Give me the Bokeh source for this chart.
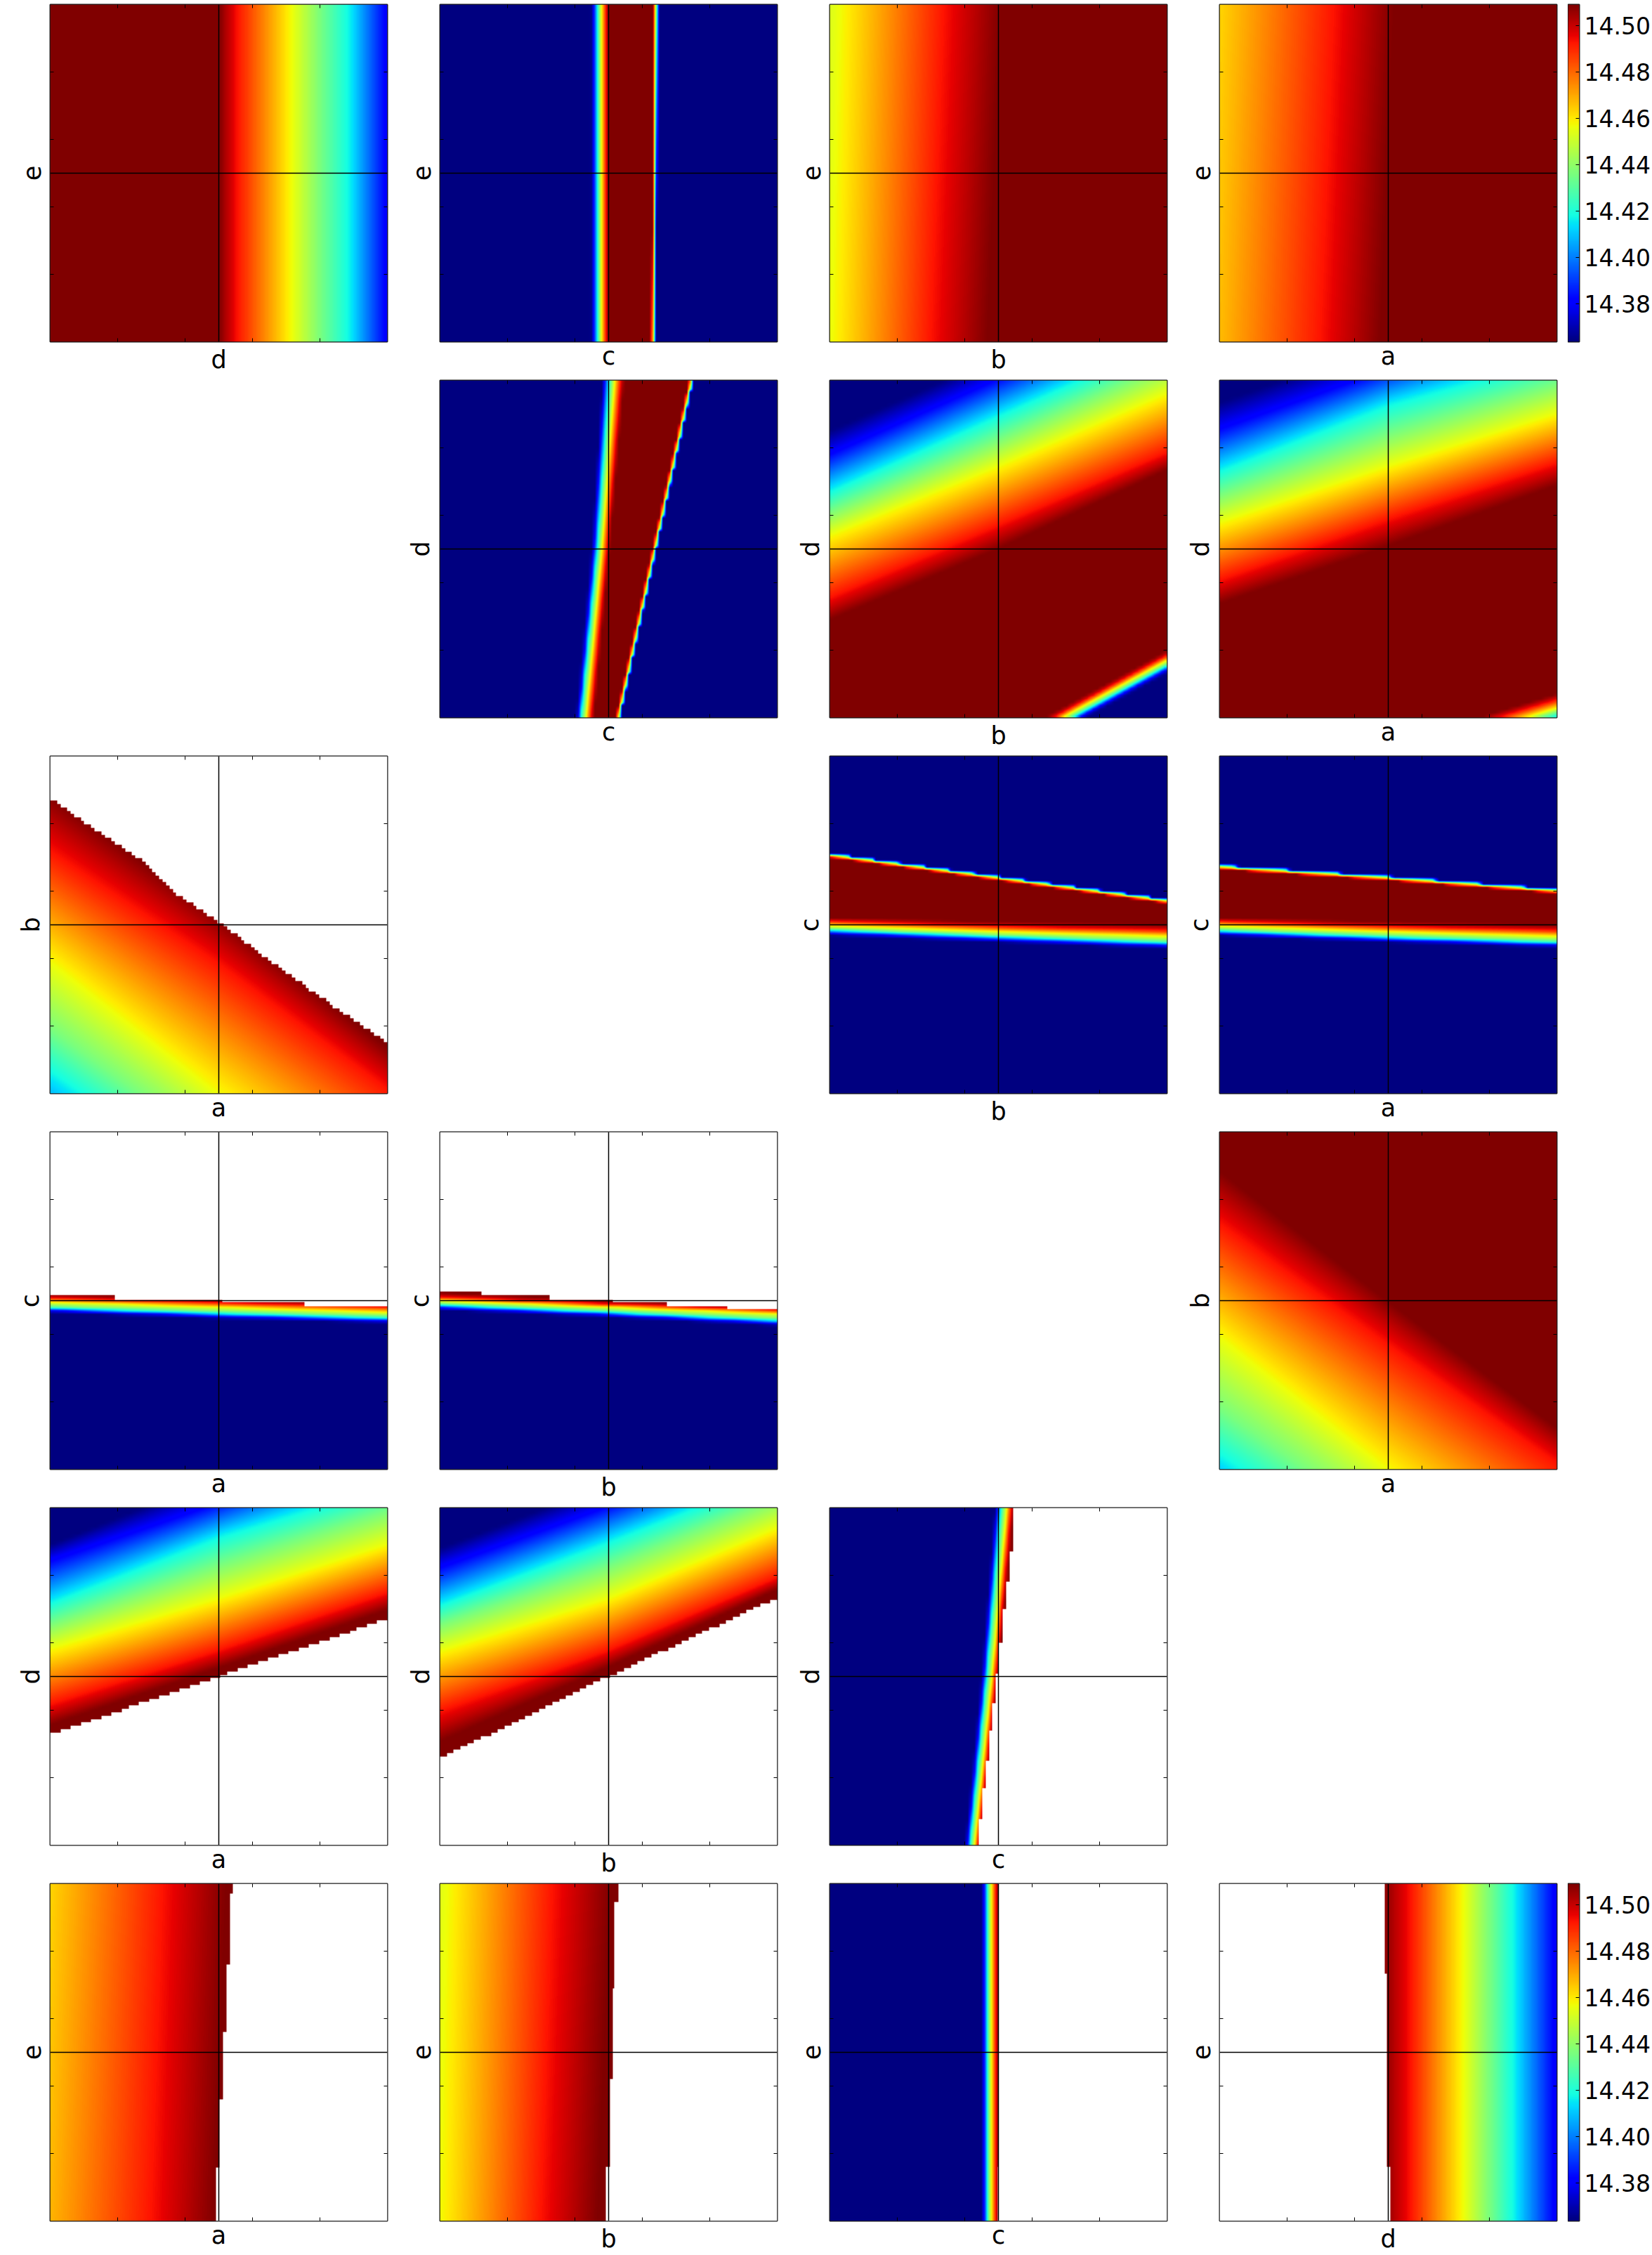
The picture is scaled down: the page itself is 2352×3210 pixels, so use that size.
import numpy as np
from bokeh.embed import file_html
from bokeh.layouts import column, row
from bokeh.models import (FixedTicker, LinearAxis, LinearColorMapper, Range1d, Span, Spacer,
                          NumeralTickFormatter)
from bokeh.plotting import figure
from bokeh.resources import INLINE

# ---- colour-scale values ----
VMIN, VMAX = 14.3636, 14.509
CB_TICKS = [14.38, 14.40, 14.42, 14.44, 14.46, 14.48, 14.50]
NAVY, BLUE, CYAN, GREEN, YELLOW, RED, MAROON = 14.364, 14.380, 14.416, 14.436, 14.457, 14.493, 14.509
RISE = [NAVY, BLUE, CYAN, GREEN, YELLOW, RED, MAROON]
FALL = [MAROON, RED, YELLOW, GREEN, CYAN, BLUE, NAVY]
BAND = [NAVY, BLUE, CYAN, GREEN, YELLOW, RED, MAROON, MAROON, NAVY]
BEAD = RISE + [MAROON, RED, GREEN, NAVY]

# ---- every panel: where each colour level is crossed, read at a few stations ----
# row 0
R0C0_AT = [0.5]
R0C0_POS = [[.50, .555, .715, .80, .89, .998]]
R0C0_VAL = [MAROON, RED, YELLOW, GREEN, CYAN, BLUE]

R0C1_AT = [0, 1]
R0C1_POS = [[.449, .456, .466, .472, .479, .492, .499, .6288, .6388],
            [.449, .456, .466, .472, .479, .492, .499, .6364, .6464]]

R0C2_AT = [0, 1]
R0C2_POS = [[0, .30, .47], [0, .34, .51]]
R0C2_VAL = [[14.456, RED, MAROON], [14.453, RED, MAROON]]

R0C3_AT = [0, 1]
R0C3_POS = [[0, .30, .48], [0, .34, .52]]
R0C3_VAL = [[14.467, RED, MAROON], [14.463, RED, MAROON]]

# row 1
R1C1_AT = [0, .5, 1]
R1C1_POS = [[.404, .411, .417, .426, .433, .447, .456, .5235, .5245, .5315, .5325],
            [.450, .457, .465, .473, .480, .494, .502, .6315, .6325, .6395, .6405],
            [.483, .488, .500, .509, .518, .535, .546, .7405, .7415, .7485, .7495]]

R1C2_AT = [0, .5, 1]
R1C2_POS = [[-.415, -.404, -.394, -.387, -.377, -.363, -.349, .289, .355, .539, .61, .675, .786, .85],
            [-.141, -.130, -.120, -.113, -.103, -.089, -.075, .50, .57, .744, .824, .90, 1.01, 1.07],
            [.132, .143, .153, .16, .17, .184, .198, .734, .786, .96, 1.05, 1.12, 1.23, 1.29]]
R1_VAL = RISE + FALL

R1C3_AT = [0, .5, 1]
R1C3_POS = [[-.32, -.31, -.297, -.283, -.272, -.248, -.23, .337, .407, .577, .66, .737, .862, .935],
            [-.17, -.16, -.147, -.133, -.122, -.098, -.08, .508, .588, .744, .84, .932, 1.04, 1.11],
            [-.02, -.01, .003, .017, .028, .052, .07, .688, .755, .90, .99, 1.07, 1.20, 1.27]]

# row 2
R2C0_AT = [0, .5, 1]
R2C0_POS = [[-.20, .053, .192, .393, .72, .89],
            [-.55, -.30, -.17, 0.0, .386, .53],
            [-.90, -.66, -.52, -.36, .015, .14]]
AB_VAL = [BLUE, CYAN, GREEN, YELLOW, RED, MAROON]
R2C0_MASK_AT = [0, .131, .282, .361, .5, .616, .736, .847, 1]
R2C0_MASK = [.875, .785, .684, .60, .51, .42, .334, .254, .153]

R2C2_AT = [0, .5, 1]
R2C2_POS = [[.469, .476, .483, .488, .497, .511, .52, .7015, .7025, .7095, .7105],
            [.449, .455, .464, .469, .48, .494, .508, .6335, .6345, .6415, .6425],
            [.431, .438, .445, .452, .466, .483, .50, .5655, .5665, .5735, .5745]]

R2C3_AT = [0, .5, 1]
R2C3_POS = [[.469, .474, .481, .486, .497, .511, .52, .6665, .6675, .6745, .6755],
            [.449, .455, .462, .469, .48, .494, .508, .6335, .6345, .6415, .6425],
            [.433, .44, .446, .453, .466, .483, .499, .5955, .5965, .6035, .6045]]

# row 3
R3C0_AT = [0, .5, 1]
R3C0_POS = [[.465, .471, .477, .483, .496, .507, .518],
            [.447, .454, .461, .468, .481, .493, .503],
            [.435, .44, .447, .454, .465, .481, .489]]
R3C0_EDGES = [0, .192, .51, .755, 1]
R3C0_STEPS = [.516, .503, .495, .484]

R3C1_AT = [0, .5, 1]
R3C1_POS = [[.473, .479, .486, .491, .50, .51, .523],
            [.451, .458, .464, .471, .481, .489, .50],
            [.426, .433, .44, .447, .461, .472, .479]]
R3C1_EDGES = [0, .122, .324, .513, .673, .853, 1]
R3C1_STEPS = [.527, .516, .503, .495, .484, .475]

R3C3_AT = [0, .5, 1]
R3C3_POS = [[-.2, .03, .18, .396, .73, .887],
            [-.55, -.30, -.17, 0.0, .37, .50],
            [-.90, -.66, -.52, -.36, .02, .125]]

# row 4
R4C0_AT = [0, .5, 1]
R4C0_POS = [[.355, .417, .581, .655, .723, .848, .89],
            [.525, .577, .73, .83, .918, 1.02, 1.09],
            [.697, .748, .89, .99, 1.07, 1.2, 1.27]]
R4C0_MASK = [.327, .50, .671]

R4C1_AT = [0, .5, 1]
R4C1_POS = [[.306, .396, .574, .655, .716, .828, .88],
            [.528, .577, .73, .825, .904, 1.01, 1.07],
            [.758, .793, .939, 1.03, 1.10, 1.20, 1.26]]
R4C1_MASK = [.257, .50, .734]

R4C2_AT = [0, .5, 1]
R4C2_POS = [[.402, .408, .415, .422, .429, .439, .447],
            [.45, .457, .464, .472, .481, .491, .50],
            [.491, .496, .506, .515, .525, .537, .546]]
R4C2_EDGES = [0, .078, .169, .249, .34, .42, .509, .60, .70, .781, .871, 1]
R4C2_STEPS = [.442, .452, .462, .4725, .481, .491, .50, .513, .522, .533, .543]

# row 5
R5C0_AT = [0, 1]
R5C0_POS = [[0, .30, .49], [0, .335, .525]]
R5C0_VAL = [[14.468, RED, MAROON], [14.463, RED, MAROON]]
R5C0_EDGES = [0, .159, .36, .56, .761, .971, 1]
R5C0_STEPS = [.492, .502, .513, .5225, .533, .542]

R5C1_AT = [0, 1]
R5C1_POS = [[0, .30, .47], [0, .335, .51]]
R5C1_VAL = [[14.457, RED, MAROON], [14.454, RED, MAROON]]
R5C1_EDGES = [0, .16, .42, .69, .945, 1]
R5C1_STEPS = [.4915, .504, .513, .517, .53]

R5C2_AT = [0.5]
R5C2_POS = [[.451, .458, .465, .472, .479, .492, .50]]
R5C2_EDGES = [0, .16, 1]
R5C2_STEPS = [.497, .501]

R5C3_AT = [0.5]
R5C3_POS = [[.48, .566, .721, .80, .876, .996]]
R5C3_VAL = [MAROON, RED, YELLOW, GREEN, CYAN, BLUE]
R5C3_EDGES = [0, .16, .733, 1]
R5C3_STEPS = [.506, .496, .489]

PANELS = {
    (0, 0): dict(x="d", y="e", along="x", at=R0C0_AT, pos=R0C0_POS, val=R0C0_VAL),
    (0, 1): dict(x="c", y="e", along="x", at=R0C1_AT, pos=R0C1_POS, val=BAND),
    (0, 2): dict(x="b", y="e", along="x", at=R0C2_AT, pos=R0C2_POS, val=R0C2_VAL),
    (0, 3): dict(x="a", y="e", along="x", at=R0C3_AT, pos=R0C3_POS, val=R0C3_VAL),
    (1, 1): dict(x="c", y="d", along="x", at=R1C1_AT, pos=R1C1_POS, val=BEAD),
    (1, 2): dict(x="b", y="d", along="y", at=R1C2_AT, pos=R1C2_POS, val=R1_VAL),
    (1, 3): dict(x="a", y="d", along="y", at=R1C3_AT, pos=R1C3_POS, val=R1_VAL),
    (2, 0): dict(x="a", y="b", along="y", at=R2C0_AT, pos=R2C0_POS, val=AB_VAL,
                 mask_at=R2C0_MASK_AT, mask=R2C0_MASK, keep="low"),
    (2, 2): dict(x="b", y="c", along="y", at=R2C2_AT, pos=R2C2_POS, val=BEAD),
    (2, 3): dict(x="a", y="c", along="y", at=R2C3_AT, pos=R2C3_POS, val=BEAD),
    (3, 0): dict(x="a", y="c", along="y", at=R3C0_AT, pos=R3C0_POS, val=RISE,
                 edges=R3C0_EDGES, steps=R3C0_STEPS, keep="low"),
    (3, 1): dict(x="b", y="c", along="y", at=R3C1_AT, pos=R3C1_POS, val=RISE,
                 edges=R3C1_EDGES, steps=R3C1_STEPS, keep="low"),
    (3, 3): dict(x="a", y="b", along="y", at=R3C3_AT, pos=R3C3_POS, val=AB_VAL),
    (4, 0): dict(x="a", y="d", along="y", at=R4C0_AT, pos=R4C0_POS, val=FALL,
                 mask_at=R4C0_AT, mask=R4C0_MASK, keep="high"),
    (4, 1): dict(x="b", y="d", along="y", at=R4C1_AT, pos=R4C1_POS, val=FALL,
                 mask_at=R4C1_AT, mask=R4C1_MASK, keep="high"),
    (4, 2): dict(x="c", y="d", along="x", at=R4C2_AT, pos=R4C2_POS, val=RISE,
                 edges=R4C2_EDGES, steps=R4C2_STEPS, keep="low"),
    (5, 0): dict(x="a", y="e", along="x", at=R5C0_AT, pos=R5C0_POS, val=R5C0_VAL,
                 edges=R5C0_EDGES, steps=R5C0_STEPS, keep="low"),
    (5, 1): dict(x="b", y="e", along="x", at=R5C1_AT, pos=R5C1_POS, val=R5C1_VAL,
                 edges=R5C1_EDGES, steps=R5C1_STEPS, keep="low"),
    (5, 2): dict(x="c", y="e", along="x", at=R5C2_AT, pos=R5C2_POS, val=RISE,
                 edges=R5C2_EDGES, steps=R5C2_STEPS, keep="low"),
    (5, 3): dict(x="d", y="e", along="x", at=R5C3_AT, pos=R5C3_POS, val=R5C3_VAL,
                 edges=R5C3_EDGES, steps=R5C3_STEPS, keep="high"),
}

# ---- layout ----
CELL, FINE = 99, 480
COL_W, ROW_H, FRAME_W, FRAME_H, LEFT, TOP = 555, 535, 480, 480, 71, 6
LAST_COL_W, CB_W, CB_BAR = 567, 120, 24
FONT = "DejaVu Sans"
FS = "35px"
CB_FS = "33px"
TICKS = [.2, .4, .6, .8]
X_STANDOFF = {"a": 0, "c": 0, "b": 5, "d": 5}
Y_STANDOFF = {"e": 14, "b": 8, "c": 9, "d": 8}


def jet(n=256):
    t = np.linspace(0, 1, n)
    r = np.interp(t, [0, .35, .66, .89, 1], [0, 0, 1, 1, .5])
    g = np.interp(t, [0, .125, .375, .64, .91, 1], [0, 0, 1, 1, 0, 0])
    b = np.interp(t, [0, .11, .34, .65, 1], [.5, 1, 1, 0, 0])
    return ["#%02x%02x%02x" % tuple(int(round(c * 255)) for c in px) for px in zip(r, g, b)]


MAPPER = LinearColorMapper(palette=jet(), low=VMIN, high=VMAX, nan_color="#ffffff")


def field(sp):
    centers = (np.arange(CELL) + .5) / CELL
    fine = (np.arange(FINE) + .5) / FINE
    at = np.array(sp["at"], float)
    pos = np.array(sp["pos"], float)
    val = np.array(sp["val"], float)
    if val.ndim == 1:
        val = np.tile(val, (len(at), 1))
    grid = np.zeros((CELL, CELL))
    for i, s in enumerate(centers):
        p = [np.interp(s, at, pos[:, j]) for j in range(pos.shape[1])]
        v = [np.interp(s, at, val[:, j]) for j in range(val.shape[1])]
        grid[i] = np.interp(centers, p, v)
    # bilinear upsampling of the coarse grid, as imshow does
    tmp = np.array([np.interp(fine, centers, grid[i]) for i in range(CELL)])
    img = np.array([np.interp(fine, centers, tmp[:, j]) for j in range(FINE)]).T
    if "steps" in sp:
        edges, steps = np.array(sp["edges"]), np.array(sp["steps"])
        idx = np.clip(np.searchsorted(edges, fine, side="right") - 1, 0, len(steps) - 1)
        bound = steps[idx]
        uu = fine[None, :]
        keep = uu <= bound[:, None] if sp["keep"] == "low" else uu >= bound[:, None]
        img[~keep] = np.nan
    elif "mask" in sp:
        snap_s = (np.floor(fine * CELL) + .5) / CELL
        bound = np.interp(snap_s, sp["mask_at"], sp["mask"])
        uu = snap_s[None, :]
        keep = uu <= bound[:, None] if sp["keep"] == "low" else uu >= bound[:, None]
        img[~keep] = np.nan
    return img.T if sp["along"] == "y" else img


def tick_axis(**kw):
    ax = LinearAxis(ticker=FixedTicker(ticks=TICKS), major_tick_in=5, major_tick_out=0,
                    major_tick_line_color="black", major_tick_line_width=1,
                    minor_tick_line_color=None, axis_line_color=None,
                    major_label_text_font_size="0px", major_label_standoff=0,
                    major_label_overrides={t: "" for t in TICKS}, **kw)
    return ax


def panel(sp, width):
    p = figure(width=width, height=ROW_H, x_range=Range1d(0, 1), y_range=Range1d(0, 1),
               toolbar_location=None, output_backend="svg", x_axis_location=None,
               y_axis_location=None, min_border_left=LEFT, min_border_top=TOP,
               min_border_right=width - LEFT - FRAME_W, min_border_bottom=ROW_H - TOP - FRAME_H,
               outline_line_color="#1a1a1a", outline_line_width=2, background_fill_color="white",
               border_fill_color="white")
    p.grid.visible = False
    p.image(image=[field(sp)], x=0, y=0, dw=1, dh=1, color_mapper=MAPPER)
    p.add_layout(tick_axis(axis_label=sp["x"], axis_label_text_font=FONT, axis_label_text_font_size=FS,
                           axis_label_text_font_style="normal", axis_label_text_color="black",
                           axis_label_standoff=X_STANDOFF[sp["x"]]), "below")
    p.add_layout(tick_axis(axis_label=sp["y"], axis_label_text_font=FONT, axis_label_text_font_size=FS,
                           axis_label_text_font_style="normal", axis_label_text_color="black",
                           axis_label_standoff=Y_STANDOFF[sp["y"]]), "left")
    p.add_layout(tick_axis(), "above")
    p.add_layout(tick_axis(), "right")
    p.add_layout(Span(location=.5, dimension="height", line_color="black", line_width=1.5))
    p.add_layout(Span(location=.5, dimension="width", line_color="black", line_width=1.5))
    return p


def colorbar():
    c = figure(width=CB_W, height=ROW_H, x_range=Range1d(0, 1), y_range=Range1d(VMIN, VMAX),
               toolbar_location=None, output_backend="svg", x_axis_location=None,
               y_axis_location=None, min_border_left=0, min_border_top=TOP,
               min_border_right=CB_W - CB_BAR, min_border_bottom=ROW_H - TOP - FRAME_H,
               outline_line_color="#1a1a1a", outline_line_width=2)
    c.grid.visible = False
    c.image(image=[np.linspace(VMIN, VMAX, 256)[:, None]], x=0, y=VMIN, dw=1, dh=VMAX - VMIN,
            color_mapper=MAPPER)
    c.add_layout(LinearAxis(ticker=FixedTicker(ticks=CB_TICKS), major_tick_in=5, major_tick_out=0,
                            major_tick_line_color="black", minor_tick_line_color=None,
                            axis_line_color=None, major_label_standoff=7,
                            major_label_text_font=FONT, major_label_text_font_size=CB_FS,
                            major_label_text_color="black",
                            formatter=NumeralTickFormatter(format="0.00")), "right")
    return c


rows = []
for r in range(6):
    cells = []
    for cidx in range(4):
        w = LAST_COL_W if cidx == 3 else COL_W
        if (r, cidx) in PANELS:
            cells.append(panel(PANELS[(r, cidx)], w))
        else:
            cells.append(Spacer(width=w, height=ROW_H))
    if r in (0, 5):
        cells.append(colorbar())
    rows.append(row(*cells))

page = column(*rows, margin=(0, 0, 0, 0))
open("out.html", "w").write(file_html(page, INLINE))
